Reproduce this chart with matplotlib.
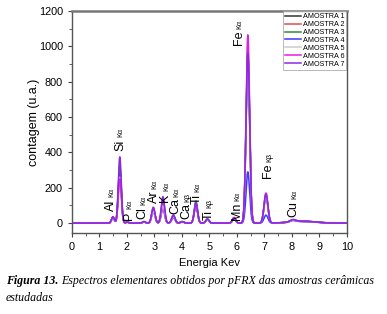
import matplotlib.pyplot as plt
import numpy as np

# peak lines (keV) and widths
peak_energy = [1.49, 1.74, 2.01, 2.62, 2.96, 3.31, 3.69, 4.01, 4.51, 4.93, 5.90, 6.40, 7.06, 8.04, 8.40]
peak_width = [0.05, 0.055, 0.05, 0.05, 0.06, 0.06, 0.06, 0.06, 0.06, 0.06, 0.06, 0.065, 0.07, 0.1, 0.45]

# peak heights per sample (counts)
amostra1 = [30, 300, 5, 8, 75, 110, 40, 8, 110, 20, 25, 950, 150, 10, 10]
amostra2 = [32, 320, 5, 8, 70, 80, 35, 8, 100, 20, 28, 1000, 160, 10, 10]
amostra3 = [35, 330, 5, 8, 80, 120, 45, 8, 125, 22, 30, 900, 155, 10, 10]
amostra4 = [30, 280, 5, 8, 65, 90, 30, 6, 95, 18, 20, 290, 45, 8, 9]
amostra5 = [28, 260, 5, 8, 65, 100, 35, 8, 100, 20, 25, 930, 150, 10, 10]
amostra6 = [33, 250, 5, 8, 85, 140, 42, 8, 105, 22, 32, 1065, 170, 12, 11]
amostra7 = [36, 375, 6, 9, 90, 150, 45, 9, 115, 24, 30, 960, 165, 12, 11]

series = [amostra1, amostra2, amostra3, amostra4, amostra5, amostra6, amostra7]
names = ['AMOSTRA 1', 'AMOSTRA 2', 'AMOSTRA 3', 'AMOSTRA 4', 'AMOSTRA 5', 'AMOSTRA 6', 'AMOSTRA 7']
colors = ['#333333', '#e8474b', '#2e8b3a', '#3b3bff', '#cccccc', '#e020e0', '#8a2be2']

# labels: element, line, x, y (bottom of rotated text)
lab_el = ['Al', 'Si', 'P', 'Cl', 'Ar', 'K', 'Ca', 'Ca', 'Ti', 'Ti', 'Mn', 'Fe', 'Fe', 'Cu']
lab_ln = ['K\u03b1', 'K\u03b1', 'K\u03b1', 'K\u03b1', 'K\u03b1', 'K\u03b1', 'K\u03b1', 'K\u03b2',
          'K\u03b1', 'K\u03b2', 'K\u03b1', 'K\u03b1', 'K\u03b2', 'K\u03b1']
lab_x = [1.42, 1.75, 2.08, 2.58, 2.99, 3.40, 3.76, 4.18, 4.55, 4.96, 5.99, 6.07, 7.15, 8.07]
lab_y = [70, 410, 17, 22, 113, 120, 50, 22, 107, 17, 17, 1006, 254, 34]

plt.rcParams['font.family'] = ['Liberation Sans', 'DejaVu Sans']

fig = plt.figure(figsize=(3.87, 3.14), dpi=100)
ax = fig.add_axes([0.186, 0.258, 0.710, 0.707])

e = np.linspace(0, 10, 1001)
for s, name, c in zip(series, names, colors):
    y = np.zeros_like(e)
    for mu, w, h in zip(peak_energy, peak_width, s):
        y += h * np.exp(-0.5 * ((e - mu) / w) ** 2)
    ax.plot(e, y, color=c, lw=1.1, label=name)

fig.canvas.draw()
inv = ax.transData.inverted()
for el, ln, x, y in zip(lab_el, lab_ln, lab_x, lab_y):
    t = ax.text(x, y, el, rotation=90, fontsize=9, ha='center', va='bottom')
    bb = t.get_window_extent(fig.canvas.get_renderer()).transformed(inv)
    ax.annotate(ln, (x, bb.y1), xytext=(0.8, 2), textcoords='offset points',
                rotation=90, fontsize=5.2, ha='center', va='bottom')

ax.set_xlim(0, 10)
ax.set_ylim(-56, 1200)
ax.set_xticks(range(0, 11))
ax.set_yticks(range(0, 1201, 200))
ax.set_xticks(np.arange(0, 10.01, 0.5), minor=True)
ax.set_yticks(range(0, 1201, 100), minor=True)
ax.tick_params(labelsize=7.8, length=3, width=0.8, color='#444444')
ax.tick_params(which='minor', length=2, width=0.6, color='#444444')
for sp in ax.spines.values():
    sp.set_color('#555555')
    sp.set_linewidth(1.0)
ax.spines['top'].set_linewidth(1.8)
ax.spines['top'].set_color('#777777')

ax.set_xlabel('Energia Kev', fontsize=8, labelpad=4)
ax.set_ylabel('contagem (u.a.)', fontsize=9, labelpad=-1)

leg = ax.legend(loc='upper right', fontsize=5.2, frameon=True, fancybox=False,
                borderpad=0.25, labelspacing=0.12, handlelength=2.2, handletextpad=0.3,
                borderaxespad=0.05)
leg.get_frame().set_edgecolor('#999999')
leg.get_frame().set_linewidth(0.6)

cap = dict(family='Liberation Serif', style='italic', fontsize=8.6)
t1 = fig.text(0.015, 0.095, 'Figura 13.', weight='bold', **cap)
fig.canvas.draw()
x1 = t1.get_window_extent(fig.canvas.get_renderer()).x1 / fig.bbox.width
fig.text(x1 + 0.007, 0.095, 'Espectros elementares obtidos por pFRX das amostras cer\u00e2micas', **cap)
fig.text(0.015, 0.04, 'estudadas', **cap)

fig.savefig('out.png', dpi=100)
